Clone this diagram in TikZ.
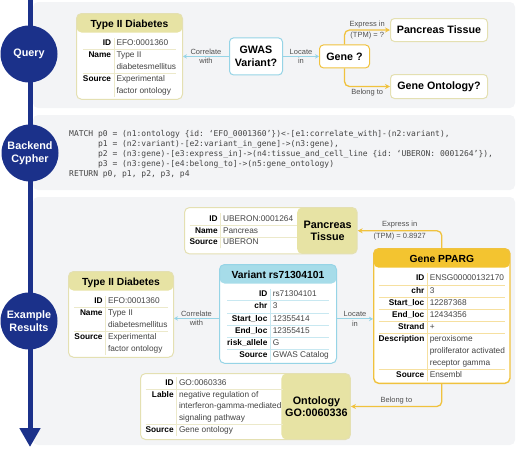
\documentclass[tikz,border=0pt]{standalone}
\usepackage{fontspec}
\setmainfont{Liberation Sans}
\setmonofont{DejaVu Sans Mono}
\usepackage{colortbl}
\usepackage{tikz}
\usetikzlibrary{positioning}
\usetikzlibrary{arrows.meta}

\definecolor{navy}{RGB}{27,49,138}
\definecolor{panelgray}{RGB}{243,244,246}
\definecolor{hdrbeige}{RGB}{231,227,164}
\definecolor{beigeline}{RGB}{228,224,178}
\definecolor{beigerule}{RGB}{236,233,202}
\definecolor{hdrsky}{RGB}{166,220,233}
\definecolor{skyline}{RGB}{150,212,230}
\definecolor{skyrule}{RGB}{200,232,241}
\definecolor{hdrgold}{RGB}{243,196,48}
\definecolor{goldline}{RGB}{240,194,62}
\definecolor{goldrule}{RGB}{246,224,160}
\definecolor{valgray}{RGB}{68,68,68}
\definecolor{relgray}{RGB}{80,80,80}

\setlength{\tabcolsep}{2.5pt}
\renewcommand{\arraystretch}{1.18}
\newcolumntype{K}{>{\bfseries\color{black}}r}
\newcommand{\boxtitle}[1]{\multicolumn{2}{c}{\rule[-10.5pt]{0pt}{22pt}\fontsize{10.3}{12}\selectfont\bfseries\color{black}#1}}

\tikzset{
    stage/.style={circle, fill=navy, text=white, minimum size=57pt, inner sep=0pt,
            align=center, font=\fontsize{10.8}{13}\selectfont\bfseries},
    panel/.style={fill=panelgray, rounded corners=5pt},
    tbl/.style 2 args={draw=#1, fill=white, line width=1pt, rounded corners=5pt,
            anchor=north west, inner xsep=5pt, inner ysep=2pt, text=valgray,
            font=\fontsize{8.3}{10}\selectfont,
            path picture={\fill [#2] (path picture bounding box.north west)
                rectangle ([yshift=-19pt]path picture bounding box.north east);}},
    sidetbl/.style n args={3}{draw=#1, fill=white, line width=1pt, rounded corners=5pt,
            anchor=north west, inner xsep=5pt, inner ysep=4pt, text=valgray,
            font=\fontsize{8.3}{10}\selectfont,
            path picture={\fill [#2] ([xshift=-#3]path picture bounding box.north east)
                rectangle (path picture bounding box.south east);}},
    sidename/.style={font=\fontsize{10.8}{12.5}\selectfont\bfseries, align=center, inner sep=0pt},
    tag/.style={draw=#1, fill=white, line width=1pt, rounded corners=4pt, anchor=north west,
            inner sep=0pt, align=center, font=\fontsize{10.7}{12.5}\selectfont\bfseries},
    rel/.style={font=\fontsize{7.5}{9}\selectfont, text=relgray, inner sep=1.5pt},
    link/.style={draw=skyline, line width=1pt, -{Stealth[length=4pt,width=4.5pt]}},
    branch/.style={draw=goldline, line width=1.3pt, rounded corners=5pt,
            -{Stealth[length=5pt,width=5pt]}}
}

\begin{document}
\begin{tikzpicture}[x=1pt, y=-1pt]
    \useasboundingbox (0,0) rectangle (520,448);
    \fill [panel] (33,2) rectangle (515,108);
    \fill [panel] (33,115) rectangle (515,190);
    \fill [panel] (33,197) rectangle (515,445);
    \draw [navy, line width=5pt, -{Triangle[width=20pt,length=19pt]}] (30,0) -- (30,447);

    \node (query) [stage] at (29,54) {Query};
    \node (cypher) [stage] at (30,153) {Backend\\Cypher};
    \node (results) [stage] at (29,321) {Example\\Results};

    % query
    \node (t2dq) [tbl={beigeline}{hdrbeige}, minimum width=106pt] at (76,13) {\arrayrulecolor{beigerule}%
        \begin{tabular}{@{}K|l@{}}
            \boxtitle{Type II Diabetes}\\
            ID & EFO:0001360\\ \hline
            Name & Type II\\
                 & diabetesmellitus\\ \hline
            Source & Experimental\\
                   & factor ontology
        \end{tabular}};
    \node (gwas) [tag=skyline, minimum width=53pt, minimum height=37pt, right=46pt of t2dq] {GWAS\\Variant?};
    \node (geneq) [tag=goldline, minimum width=50pt, minimum height=23pt, right=36pt of gwas] {Gene ?};
    \node (pancq) [tag=beigeline, minimum width=97pt, minimum height=23pt] at (390,18) {Pancreas Tissue};
    \node (goq) [tag=beigeline, minimum width=97pt, minimum height=24pt] at (390,74) {Gene Ontology?};

    \draw [link] (gwas) -- (gwas -| t2dq.east)
        node [rel, midway, above] {Correlate} node [rel, midway, below] {with};
    \draw [link] (gwas) -- (gwas -| geneq.west)
        node [rel, midway, above] {Locate} node [rel, midway, below] {in};
    \draw [branch] (geneq.north) |- (pancq.west)
        node [rel, pos=0.75, above] {Express in} node [rel, pos=0.75, below] {(TPM) = ?};
    \draw [branch] (geneq.south) |- (goq.west)
        node [rel, pos=0.75, below] {Belong to};

    % cypher
    \node (match) [anchor=north west, inner sep=0pt, align=left, text=valgray,
            font=\ttfamily\fontsize{8}{10}\selectfont] at (69,130) {%
        MATCH p0 = (n1:ontology \{id: ‘EFO\_0001360’\})<-[e1:correlate\_with]-(n2:variant),\\
        \phantom{MATCH }p1 = (n2:variant)-[e2:variant\_in\_gene]->(n3:gene),\\
        \phantom{MATCH }p2 = (n3:gene)-[e3:express\_in]->(n4:tissue\_and\_cell\_line \{id: ‘UBERON: 0001264’\}),\\
        \phantom{MATCH }p3 = (n3:gene)-[e4:belong\_to]->(n5:gene\_ontology)\\
        RETURN p0, p1, p2, p3, p4};

    % results
    \node (panc) [sidetbl={beigeline}{hdrbeige}{60pt}, inner ysep=5.5pt] at (184,207) {\arrayrulecolor{beigerule}%
        \begin{tabular}{@{}K|l@{\hspace{4pt}}p{55pt}@{}}
            ID & UBERON:0001264 & \\ \cline{1-2}
            Name & Pancreas & \\ \cline{1-2}
            Source & UBERON &
        \end{tabular}};
    \node (panc-name) [sidename] at ([xshift=-30pt]panc.east) {Pancreas\\Tissue};

    \node (t2de) [tbl={beigeline}{hdrbeige}, minimum width=105pt] at (68,271) {\arrayrulecolor{beigerule}%
        \begin{tabular}{@{}K|l@{}}
            \boxtitle{Type II Diabetes}\\
            ID & EFO:0001360\\ \hline
            Name & Type II\\
                 & diabetesmellitus\\ \hline
            Source & Experimental\\
                   & factor ontology
        \end{tabular}};

    \node (var) [tbl={skyline}{hdrsky}, minimum width=117pt] at (219,264) {\arrayrulecolor{skyrule}%
        \begin{tabular}{@{}K|l@{}}
            \boxtitle{Variant rs71304101}\\
            ID & rs71304101\\ \hline
            chr & 3\\ \hline
            Start\_loc & 12355414\\ \hline
            End\_loc & 12355415\\ \hline
            risk\_allele & G\\ \hline
            Source & GWAS Catalog
        \end{tabular}};

    \node (gene) [tbl={goldline}{hdrgold}, line width=1.4pt, minimum width=135pt] at (373,248) {\arrayrulecolor{goldrule}%
        \begin{tabular}{@{}K|l@{}}
            \boxtitle{Gene PPARG}\\
            ID & ENSG00000132170\\ \hline
            chr & 3\\ \hline
            Start\_loc & 12287368\\ \hline
            End\_loc & 12434356\\ \hline
            Strand & +\\ \hline
            Description & peroxisome\\
                        & proliferator activated\\
                        & receptor gamma\\ \hline
            Source & Ensembl
        \end{tabular}};

    \node (onto) [sidetbl={beigeline}{hdrbeige}{69pt}, inner ysep=3.5pt] at (140,373) {\arrayrulecolor{beigerule}%
        \begin{tabular}{@{}K|l@{\hspace{2pt}}p{62pt}@{}}
            ID & GO:0060336 & \\ \cline{1-2}
            Lable & negative regulation of & \\
                  & interferon-gamma-mediated & \\
                  & signaling pathway & \\ \cline{1-2}
            Source & Gene ontology &
        \end{tabular}};
    \node (onto-name) [sidename] at ([xshift=-34.5pt]onto.east) {Ontology\\GO:0060336};

    \coordinate (corr) at ([yshift=-4.5pt]var.west);
    \coordinate (loc) at ([yshift=-5pt]var.east);
    \draw [link] (corr) -- (corr -| t2de.east)
        node [rel, midway, above] {Correlate} node [rel, midway, below] {with};
    \draw [link] (loc) -- (loc -| gene.west)
        node [rel, midway, above] {Locate} node [rel, midway, below] {in};
    \draw [branch] (gene.north) |- (panc.east)
        node [rel, pos=0.75, above] {Express in} node [rel, pos=0.75, below] {(TPM) = 0.8927};
    \draw [branch] (gene.south) |- (onto.east)
        node [rel, pos=0.75, above] {Belong to};
\end{tikzpicture}
\end{document}
